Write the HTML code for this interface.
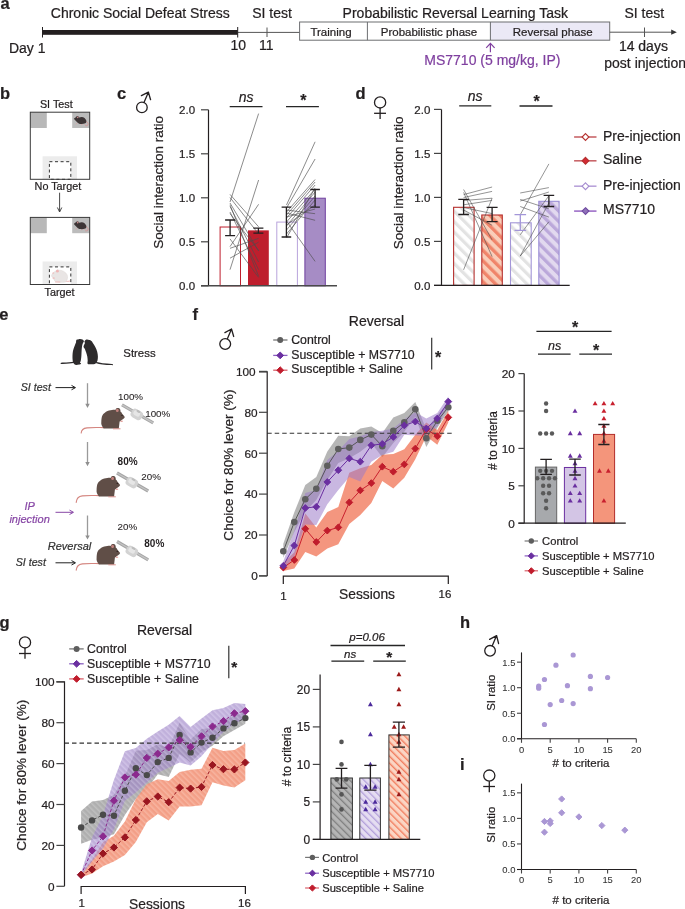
<!DOCTYPE html><html><head><meta charset="utf-8"><title>Figure</title><style>html,body{margin:0;padding:0;background:#fff;width:685px;height:909px;overflow:hidden}svg{display:block;will-change:transform}text{font-family:"Liberation Sans",sans-serif}</style></head><body>
<svg width="685" height="909" viewBox="0 0 685 909">
<defs><pattern id="hGray" patternUnits="userSpaceOnUse" width="7.4" height="7.4" patternTransform="rotate(-45)"><rect width="7.4" height="7.4" fill="#fff"/><rect width="3.2" height="7.4" fill="#e3e3e3"/></pattern><pattern id="hSal" patternUnits="userSpaceOnUse" width="7.4" height="7.4" patternTransform="rotate(-45)"><rect width="7.4" height="7.4" fill="#f9cdb9"/><rect width="3.3" height="7.4" fill="#f0846a"/></pattern><pattern id="hPur" patternUnits="userSpaceOnUse" width="7.4" height="7.4" patternTransform="rotate(-45)"><rect width="7.4" height="7.4" fill="#e2d9ef"/><rect width="3.3" height="7.4" fill="#bba8da"/></pattern><pattern id="gGray" patternUnits="userSpaceOnUse" width="5" height="5" patternTransform="rotate(-45)"><rect width="5" height="5" fill="#b5b5b5"/><rect width="1.3" height="5" fill="#808080"/></pattern><pattern id="gPur" patternUnits="userSpaceOnUse" width="5" height="5" patternTransform="rotate(-45)"><rect width="5" height="5" fill="#e5ddf1"/><rect width="1.3" height="5" fill="#b29fda"/></pattern><pattern id="gSal" patternUnits="userSpaceOnUse" width="5" height="5" patternTransform="rotate(-45)"><rect width="5" height="5" fill="#fbd5c4"/><rect width="1.4" height="5" fill="#f17d5f"/></pattern><pattern id="bGray" patternUnits="userSpaceOnUse" width="4" height="4" patternTransform="rotate(-45)"><rect width="4" height="4" fill="#9b9b9b"/><rect width="1.5" height="4" fill="#b0b0b0"/></pattern><pattern id="bPur" patternUnits="userSpaceOnUse" width="4" height="4" patternTransform="rotate(-45)"><rect width="4" height="4" fill="#a087c8"/><rect width="1.5" height="4" fill="#b8a4da"/></pattern><pattern id="bSal" patternUnits="userSpaceOnUse" width="4" height="4" patternTransform="rotate(-45)"><rect width="4" height="4" fill="#f2957a"/><rect width="1.5" height="4" fill="#f6ac96"/></pattern></defs>
<text x="0.4" y="9" font-size="16.5" text-anchor="start" fill="#231f20" stroke="#231f20" stroke-width="0.22" font-weight="bold" >a</text>
<text x="50.8" y="17.5" font-size="14" text-anchor="start" fill="#231f20" stroke="#231f20" stroke-width="0.22" >Chronic Social Defeat Stress</text>
<text x="252.2" y="17.5" font-size="14" text-anchor="start" fill="#231f20" stroke="#231f20" stroke-width="0.22" >SI test</text>
<text x="342.6" y="17.5" font-size="14" text-anchor="start" fill="#231f20" stroke="#231f20" stroke-width="0.22" >Probabilistic Reversal Learning Task</text>
<text x="624.4" y="17.5" font-size="14" text-anchor="start" fill="#231f20" stroke="#231f20" stroke-width="0.22" >SI test</text>
<rect x="42.5" y="30" width="195.2" height="4.8" fill="#231f20" stroke="none" stroke-width="1" />
<line x1="237.7" y1="32.4" x2="299.6" y2="32.4" stroke="#555" stroke-width="1" />
<line x1="42.5" y1="27" x2="42.5" y2="37.5" stroke="#231f20" stroke-width="1" />
<line x1="237.7" y1="27" x2="237.7" y2="37.5" stroke="#231f20" stroke-width="1" />
<line x1="267" y1="27.5" x2="267" y2="37" stroke="#555" stroke-width="1" />
<text x="8.9" y="52.5" font-size="14" text-anchor="start" fill="#231f20" stroke="#231f20" stroke-width="0.22" >Day 1</text>
<text x="238.2" y="50.4" font-size="14" text-anchor="middle" fill="#231f20" stroke="#231f20" stroke-width="0.22" >10</text>
<text x="266.3" y="50.4" font-size="14" text-anchor="middle" fill="#231f20" stroke="#231f20" stroke-width="0.22" >11</text>
<rect x="490.4" y="22" width="119.3" height="18.2" fill="#ebe9f6" stroke="none" stroke-width="1" />
<rect x="299.6" y="22" width="310.1" height="18.2" fill="none" stroke="#6d6e71" stroke-width="1" />
<line x1="367.4" y1="22" x2="367.4" y2="40.2" stroke="#6d6e71" stroke-width="1" />
<line x1="490.4" y1="22" x2="490.4" y2="40.2" stroke="#6d6e71" stroke-width="1" />
<text x="331" y="35.6" font-size="11.5" text-anchor="middle" fill="#231f20" stroke="#231f20" stroke-width="0.22" >Training</text>
<text x="429" y="35.6" font-size="11.5" text-anchor="middle" fill="#231f20" stroke="#231f20" stroke-width="0.22" >Probabilistic phase</text>
<text x="552.7" y="35.6" font-size="11.5" text-anchor="middle" fill="#231f20" stroke="#231f20" stroke-width="0.22" >Reversal phase</text>
<line x1="609.7" y1="32.2" x2="673" y2="32.2" stroke="#555" stroke-width="1" />
<path d="M671.2,29.6L676.8,32.2L671.2,34.8Z" fill="#333"/>
<line x1="644.5" y1="27.5" x2="644.5" y2="37" stroke="#555" stroke-width="1" />
<text x="643.4" y="50.8" font-size="14" text-anchor="middle" fill="#231f20" stroke="#231f20" stroke-width="0.22" >14 days</text>
<text x="604.3" y="67.5" font-size="14" text-anchor="start" fill="#231f20" stroke="#231f20" stroke-width="0.22" >post injection</text>
<text x="424.3" y="64.8" font-size="14" text-anchor="start" fill="#7f3f9f" stroke="#7f3f9f" stroke-width="0.22" >MS7710 (5 mg/kg, IP)</text>
<path d="M490.4,52.3V43.3M486.2,47.8L490.4,43.3L494.6,47.8" fill="none" stroke="#7f3f9f" stroke-width="1.2"/>
<text x="0" y="98.8" font-size="16.5" text-anchor="start" fill="#231f20" stroke="#231f20" stroke-width="0.22" font-weight="bold" >b</text>
<text x="56.3" y="107.9" font-size="10.8" text-anchor="middle" fill="#231f20" stroke="#231f20" stroke-width="0.22" >SI Test</text>
<rect x="30.3" y="112.2" width="59.4" height="67.1" fill="#fff" stroke="none" stroke-width="1" />
<rect x="30.3" y="112.2" width="16.5" height="15.8" fill="#b8b8b8" stroke="none" stroke-width="1" />
<rect x="72.2" y="112.2" width="17.5" height="15.8" fill="#bcbcbc" stroke="none" stroke-width="1" />
<rect x="42.6" y="156.3" width="34.4" height="23" fill="#ececec" stroke="none" stroke-width="1" />
<rect x="49.4" y="161.7" width="21.4" height="17.6" fill="#fff" stroke="#333" stroke-width="1" stroke-dasharray="3,2.6"/>
<rect x="30.3" y="112.2" width="59.4" height="67.1" fill="none" stroke="#3a3a3a" stroke-width="1" />
<g transform="translate(73.8,116.10000000000001)"><path d="M12.2,5.4 C13.8,6 14.6,7.4 14.2,8.6 C13.8,9.6 12.6,9.8 11.4,9.5" fill="none" stroke="#d98a8a" stroke-width="0.7"/><path d="M3,7.2 L2.2,8.2 M8.4,7.9 L7.6,9 M10.6,7.6 L11.3,8.6" stroke="#e09a9a" stroke-width="0.8"/><path d="M0.1,2.7 C0.6,1.9 1.2,1.4 1.8,1.3 C2.4,0.6 3,0 3.8,0 C4.6,0 5,0.8 5.2,1.5 C6,1.1 7,0.9 7.9,0.9 C10,1 11.8,2.5 12.5,4.4 C12.7,5.8 12.3,6.8 11.5,7.2 C9.8,7.9 8,8 6.4,7.8 C5,7.6 3.5,6.4 2.4,5.1 C1.6,4.5 0.6,3.6 0.1,2.7Z" fill="#3d3536"/><ellipse cx="3.9" cy="1.2" rx="0.8" ry="0.9" fill="#c98a8a"/></g>
<text x="57.9" y="190.3" font-size="10.8" text-anchor="middle" fill="#231f20" stroke="#231f20" stroke-width="0.22" >No Target</text>
<path d="M59.6,192.7V211.5M57.4,207.5L59.6,212L61.8,207.5" fill="none" stroke="#333" stroke-width="0.9"/>
<rect x="30.3" y="217.4" width="59.4" height="67.1" fill="#fff" stroke="none" stroke-width="1" />
<rect x="30.3" y="217.4" width="16.5" height="15.8" fill="#b8b8b8" stroke="none" stroke-width="1" />
<rect x="72.2" y="217.4" width="17.5" height="15.8" fill="#bcbcbc" stroke="none" stroke-width="1" />
<rect x="42.6" y="261.5" width="34.4" height="23" fill="#ececec" stroke="none" stroke-width="1" />
<rect x="49.4" y="266.9" width="21.4" height="17.6" fill="#fff" stroke="#333" stroke-width="1" stroke-dasharray="3,2.6"/>
<rect x="30.3" y="217.4" width="59.4" height="67.1" fill="none" stroke="#3a3a3a" stroke-width="1" />
<g transform="translate(73.8,221.3)"><path d="M12.2,5.4 C13.8,6 14.6,7.4 14.2,8.6 C13.8,9.6 12.6,9.8 11.4,9.5" fill="none" stroke="#d98a8a" stroke-width="0.7"/><path d="M3,7.2 L2.2,8.2 M8.4,7.9 L7.6,9 M10.6,7.6 L11.3,8.6" stroke="#e09a9a" stroke-width="0.8"/><path d="M0.1,2.7 C0.6,1.9 1.2,1.4 1.8,1.3 C2.4,0.6 3,0 3.8,0 C4.6,0 5,0.8 5.2,1.5 C6,1.1 7,0.9 7.9,0.9 C10,1 11.8,2.5 12.5,4.4 C12.7,5.8 12.3,6.8 11.5,7.2 C9.8,7.9 8,8 6.4,7.8 C5,7.6 3.5,6.4 2.4,5.1 C1.6,4.5 0.6,3.6 0.1,2.7Z" fill="#3d3536"/><ellipse cx="3.9" cy="1.2" rx="0.8" ry="0.9" fill="#c98a8a"/></g>
<g transform="translate(51.2,269.4)"><path d="M14,11.8 C16,12.2 17.5,12 19,11.5" fill="none" stroke="#e8a0a0" stroke-width="0.7"/><path d="M0.3,6 C0.8,4.5 2.5,2.5 4.8,1.6 C5.4,0.4 6.8,0 7.6,0.8 C10.5,0.6 14.5,2.2 16,5.5 C16.8,8 16.2,11 14.5,12.6 C11,13.2 6,13 4,12.2 C2.8,10.5 2.2,9.2 1.6,8.2 C0.8,7.6 0.2,6.8 0.3,6Z" fill="#e9e5e4" stroke="#d9d2d0" stroke-width="0.4"/><ellipse cx="6.2" cy="1.8" rx="1.4" ry="1.4" fill="#f0b5b5"/><ellipse cx="2" cy="3.6" rx="1" ry="0.5" fill="#f0b0b0"/><ellipse cx="2.5" cy="8.6" rx="1.2" ry="0.6" fill="#f0a8a8"/><path d="M4,12.6 H9" stroke="#f0b0b0" stroke-width="0.8"/></g>
<text x="59.5" y="295.6" font-size="10.8" text-anchor="middle" fill="#231f20" stroke="#231f20" stroke-width="0.22" >Target</text>
<text x="117.1" y="98.9" font-size="16.5" text-anchor="start" fill="#231f20" stroke="#231f20" stroke-width="0.22" font-weight="bold" >c</text>
<circle cx="141.9" cy="107.4" r="5.3" fill="none" stroke="#231f20" stroke-width="1.3"/>
<path d="M143.98,102.53L148.4,92.2M141.4,95.6L148.4,92.2L150.6,99.7" fill="none" stroke="#231f20" stroke-width="1.3" stroke-linejoin="round" stroke-linecap="round"/>
<path d="M208.5,109.80000000000001V285.8" stroke="#231f20" stroke-width="1.2"/>
<line x1="201" y1="285.8" x2="208.5" y2="285.8" stroke="#444" stroke-width="1.2" />
<text x="195.1" y="290.3" font-size="11.5" text-anchor="end" fill="#231f20" stroke="#231f20" stroke-width="0.22" >0.0</text>
<line x1="201" y1="241.8" x2="208.5" y2="241.8" stroke="#444" stroke-width="1.2" />
<text x="195.1" y="246.3" font-size="11.5" text-anchor="end" fill="#231f20" stroke="#231f20" stroke-width="0.22" >0.5</text>
<line x1="201" y1="197.8" x2="208.5" y2="197.8" stroke="#444" stroke-width="1.2" />
<text x="195.1" y="202.3" font-size="11.5" text-anchor="end" fill="#231f20" stroke="#231f20" stroke-width="0.22" >1.0</text>
<line x1="201" y1="153.8" x2="208.5" y2="153.8" stroke="#444" stroke-width="1.2" />
<text x="195.1" y="158.3" font-size="11.5" text-anchor="end" fill="#231f20" stroke="#231f20" stroke-width="0.22" >1.5</text>
<line x1="201" y1="109.80000000000001" x2="208.5" y2="109.80000000000001" stroke="#444" stroke-width="1.2" />
<text x="195.1" y="114.30000000000001" font-size="11.5" text-anchor="end" fill="#231f20" stroke="#231f20" stroke-width="0.22" >2.0</text>
<text transform="translate(163.3,182.4) rotate(-90)" font-size="13.5" text-anchor="middle" fill="#231f20" stroke="#231f20" stroke-width="0.22">Social interaction ratio</text>
<rect x="220.1" y="227.01600000000002" width="20.4" height="58.78399999999999" fill="#fff" stroke="#be1e2d" stroke-width="1" />
<rect x="248" y="230.36" width="20.8" height="55.44" fill="#be1e2d" stroke="none" stroke-width="1" />
<rect x="276.8" y="222.08800000000002" width="20.6" height="63.71199999999999" fill="#fff" stroke="#b9a4dc" stroke-width="1" />
<rect x="304.9" y="198.2" width="20.4" height="87.60000000000002" fill="#a68cc5" stroke="#6f3f9f" stroke-width="1" />
<line x1="201" y1="285.8" x2="337" y2="285.8" stroke="#4a4a4a" stroke-width="1.4" />
<line x1="230" y1="194.4" x2="258.6" y2="226.8" stroke="#4d4d4d" stroke-width="0.65" />
<line x1="230" y1="202" x2="258.6" y2="113.6" stroke="#4d4d4d" stroke-width="0.65" />
<line x1="230" y1="203" x2="258.6" y2="251" stroke="#4d4d4d" stroke-width="0.65" />
<line x1="230" y1="204.8" x2="258.6" y2="276.3" stroke="#4d4d4d" stroke-width="0.65" />
<line x1="230" y1="212" x2="258.6" y2="269.7" stroke="#4d4d4d" stroke-width="0.65" />
<line x1="230" y1="213.6" x2="258.6" y2="250.5" stroke="#4d4d4d" stroke-width="0.65" />
<line x1="230" y1="238.9" x2="258.6" y2="277.4" stroke="#4d4d4d" stroke-width="0.65" />
<line x1="230" y1="248.3" x2="258.6" y2="238.4" stroke="#4d4d4d" stroke-width="0.65" />
<line x1="230" y1="258.2" x2="258.6" y2="242.2" stroke="#4d4d4d" stroke-width="0.65" />
<line x1="230" y1="269.7" x2="258.6" y2="180" stroke="#4d4d4d" stroke-width="0.65" />
<line x1="230" y1="246.6" x2="258.6" y2="204.3" stroke="#4d4d4d" stroke-width="0.65" />
<line x1="230" y1="206.5" x2="258.6" y2="262" stroke="#4d4d4d" stroke-width="0.65" />
<line x1="230" y1="197.5" x2="258.6" y2="234" stroke="#4d4d4d" stroke-width="0.65" />
<line x1="286.5" y1="205" x2="315.1" y2="141.8" stroke="#4d4d4d" stroke-width="0.65" />
<line x1="286.5" y1="208" x2="315.1" y2="159" stroke="#4d4d4d" stroke-width="0.65" />
<line x1="286.5" y1="212" x2="315.1" y2="179.5" stroke="#4d4d4d" stroke-width="0.65" />
<line x1="286.5" y1="215" x2="315.1" y2="182" stroke="#4d4d4d" stroke-width="0.65" />
<line x1="286.5" y1="218" x2="315.1" y2="185" stroke="#4d4d4d" stroke-width="0.65" />
<line x1="286.5" y1="222" x2="315.1" y2="189" stroke="#4d4d4d" stroke-width="0.65" />
<line x1="286.5" y1="226" x2="315.1" y2="192" stroke="#4d4d4d" stroke-width="0.65" />
<line x1="286.5" y1="230" x2="315.1" y2="196" stroke="#4d4d4d" stroke-width="0.65" />
<line x1="286.5" y1="234" x2="315.1" y2="200" stroke="#4d4d4d" stroke-width="0.65" />
<line x1="286.5" y1="238" x2="315.1" y2="188" stroke="#4d4d4d" stroke-width="0.65" />
<line x1="286.5" y1="210" x2="315.1" y2="213.7" stroke="#4d4d4d" stroke-width="0.65" />
<line x1="286.5" y1="213" x2="315.1" y2="220.3" stroke="#4d4d4d" stroke-width="0.65" />
<line x1="286.5" y1="221" x2="315.1" y2="261.4" stroke="#4d4d4d" stroke-width="0.65" />
<line x1="286.5" y1="225" x2="315.1" y2="205" stroke="#4d4d4d" stroke-width="0.65" />
<line x1="286.5" y1="217" x2="315.1" y2="209" stroke="#4d4d4d" stroke-width="0.65" />
<path d="M230.1,220V235.7M225.1,220H235.1M225.1,235.7H235.1" stroke="#231f20" stroke-width="1.3" fill="none"/>
<path d="M258.4,228.2V233.2M253.39999999999998,228.2H263.4M253.39999999999998,233.2H263.4" stroke="#231f20" stroke-width="1.3" fill="none"/>
<path d="M286.4,207.2V237M281.59999999999997,207.2H291.2M281.59999999999997,237H291.2" stroke="#231f20" stroke-width="1.3" fill="none"/>
<path d="M315.1,189.5V207.1M310.3,189.5H319.90000000000003M310.3,207.1H319.90000000000003" stroke="#231f20" stroke-width="1.3" fill="none"/>
<line x1="229.7" y1="106.6" x2="262.5" y2="106.6" stroke="#262626" stroke-width="1.3" />
<text x="246.1" y="101.9" font-size="14" text-anchor="middle" fill="#231f20" stroke="#231f20" stroke-width="0.22" font-style="italic" >ns</text>
<line x1="286" y1="106.6" x2="318.9" y2="106.6" stroke="#262626" stroke-width="1.3" />
<text x="300.2" y="106" font-size="16" text-anchor="start" fill="#231f20" stroke="#231f20" stroke-width="0.22" font-weight="bold" >*</text>
<text x="355.6" y="98.9" font-size="16.5" text-anchor="start" fill="#231f20" stroke="#231f20" stroke-width="0.22" font-weight="bold" >d</text>
<circle cx="380.1" cy="102.4" r="5.6" fill="none" stroke="#231f20" stroke-width="1.3"/>
<line x1="380.1" y1="108.0" x2="380.1" y2="119" stroke="#231f20" stroke-width="1.3"/>
<line x1="374.1" y1="113.3" x2="386" y2="113.3" stroke="#231f20" stroke-width="1.3"/>
<path d="M441.5,109.39999999999998V285.4" stroke="#231f20" stroke-width="1.2"/>
<line x1="434" y1="285.4" x2="441.5" y2="285.4" stroke="#444" stroke-width="1.2" />
<text x="430.3" y="290.09999999999997" font-size="11.5" text-anchor="end" fill="#231f20" stroke="#231f20" stroke-width="0.22" >0.0</text>
<line x1="434" y1="241.39999999999998" x2="441.5" y2="241.39999999999998" stroke="#444" stroke-width="1.2" />
<text x="430.3" y="246.09999999999997" font-size="11.5" text-anchor="end" fill="#231f20" stroke="#231f20" stroke-width="0.22" >0.5</text>
<line x1="434" y1="197.39999999999998" x2="441.5" y2="197.39999999999998" stroke="#444" stroke-width="1.2" />
<text x="430.3" y="202.09999999999997" font-size="11.5" text-anchor="end" fill="#231f20" stroke="#231f20" stroke-width="0.22" >1.0</text>
<line x1="434" y1="153.39999999999998" x2="441.5" y2="153.39999999999998" stroke="#444" stroke-width="1.2" />
<text x="430.3" y="158.09999999999997" font-size="11.5" text-anchor="end" fill="#231f20" stroke="#231f20" stroke-width="0.22" >1.5</text>
<line x1="434" y1="109.39999999999998" x2="441.5" y2="109.39999999999998" stroke="#444" stroke-width="1.2" />
<text x="430.3" y="114.09999999999998" font-size="11.5" text-anchor="end" fill="#231f20" stroke="#231f20" stroke-width="0.22" >2.0</text>
<text transform="translate(403.1,182.8) rotate(-90)" font-size="13.5" text-anchor="middle" fill="#231f20" stroke="#231f20" stroke-width="0.22">Social interaction ratio</text>
<rect x="453.6" y="207.3" width="20.5" height="78.09999999999997" fill="url(#hGray)" stroke="#b5302e" stroke-width="1.1" />
<rect x="481.8" y="215" width="20.5" height="70.39999999999998" fill="url(#hSal)" stroke="#b5302e" stroke-width="1.1" />
<rect x="510.5" y="222.8" width="20.7" height="62.599999999999966" fill="url(#hGray)" stroke="#a396d8" stroke-width="1.1" />
<rect x="538.8" y="201.3" width="20.3" height="84.09999999999997" fill="url(#hPur)" stroke="#9b8fd6" stroke-width="1.1" />
<line x1="434" y1="285.4" x2="569.7" y2="285.4" stroke="#231f20" stroke-width="1.3" />
<line x1="463.6" y1="189.5" x2="492.1" y2="239.9" stroke="#4d4d4d" stroke-width="0.6" />
<line x1="463.6" y1="192.4" x2="492.1" y2="256.6" stroke="#4d4d4d" stroke-width="0.6" />
<line x1="463.6" y1="194.6" x2="492.1" y2="187" stroke="#4d4d4d" stroke-width="0.6" />
<line x1="463.6" y1="197.5" x2="492.1" y2="191.4" stroke="#4d4d4d" stroke-width="0.6" />
<line x1="463.6" y1="200.5" x2="492.1" y2="198.2" stroke="#4d4d4d" stroke-width="0.6" />
<line x1="463.6" y1="204.8" x2="492.1" y2="200.4" stroke="#4d4d4d" stroke-width="0.6" />
<line x1="463.6" y1="269.8" x2="492.1" y2="198.2" stroke="#4d4d4d" stroke-width="0.6" />
<line x1="463.6" y1="207.5" x2="492.1" y2="213.6" stroke="#4d4d4d" stroke-width="0.6" />
<line x1="463.6" y1="210" x2="492.1" y2="225.3" stroke="#4d4d4d" stroke-width="0.6" />
<line x1="520.2" y1="193" x2="548.9" y2="187.6" stroke="#4d4d4d" stroke-width="0.6" />
<line x1="520.2" y1="199.4" x2="548.9" y2="208.8" stroke="#4d4d4d" stroke-width="0.6" />
<line x1="520.2" y1="206.5" x2="548.9" y2="217.1" stroke="#4d4d4d" stroke-width="0.6" />
<line x1="520.2" y1="214.8" x2="548.9" y2="163.9" stroke="#4d4d4d" stroke-width="0.6" />
<line x1="520.2" y1="234.8" x2="548.9" y2="195.8" stroke="#4d4d4d" stroke-width="0.6" />
<line x1="520.2" y1="256.1" x2="548.9" y2="202.9" stroke="#4d4d4d" stroke-width="0.6" />
<line x1="520.2" y1="256.1" x2="548.9" y2="221.8" stroke="#4d4d4d" stroke-width="0.6" />
<line x1="520.2" y1="201" x2="548.9" y2="192" stroke="#4d4d4d" stroke-width="0.6" />
<path d="M463.6,199.3V214.5M458.3,199.3H468.90000000000003M458.3,214.5H468.90000000000003" stroke="#231f20" stroke-width="1.3" fill="none"/>
<path d="M492.1,207.4V221.6M486.6,207.4H497.6M486.6,221.6H497.6" stroke="#231f20" stroke-width="1.3" fill="none"/>
<path d="M520.3,214.7V230.4M514.5,214.7H526.0999999999999M514.5,230.4H526.0999999999999" stroke="#a396d8" stroke-width="1.3" fill="none"/>
<path d="M548.9,195.4V206.5M543.6,195.4H554.1999999999999M543.6,206.5H554.1999999999999" stroke="#231f20" stroke-width="1.3" fill="none"/>
<line x1="459.2" y1="105.8" x2="491.3" y2="105.8" stroke="#262626" stroke-width="1.3" />
<text x="475.2" y="100.9" font-size="14" text-anchor="middle" fill="#231f20" stroke="#231f20" stroke-width="0.22" font-style="italic" >ns</text>
<line x1="519.5" y1="106" x2="552.5" y2="106" stroke="#262626" stroke-width="1.3" />
<text x="533.6" y="106.7" font-size="16" text-anchor="start" fill="#231f20" stroke="#231f20" stroke-width="0.22" font-weight="bold" >*</text>
<line x1="574.1" y1="137" x2="596.5" y2="137" stroke="#c9666a" stroke-width="1.6" />
<path d="M585.5,133.6L588.9,137L585.5,140.4L582.1,137Z" fill="#fff" stroke="#b5302e" stroke-width="1.1"/>
<text x="603" y="140.7" font-size="14" text-anchor="start" fill="#231f20" stroke="#231f20" stroke-width="0.22" >Pre-injection</text>
<line x1="574.1" y1="160.8" x2="596.5" y2="160.8" stroke="#c9666a" stroke-width="1.6" />
<path d="M585.5,157.4L588.9,160.8L585.5,164.20000000000002L582.1,160.8Z" fill="#d42a35" stroke="#b5302e" stroke-width="1.1"/>
<text x="603" y="163.9" font-size="14" text-anchor="start" fill="#231f20" stroke="#231f20" stroke-width="0.22" >Saline</text>
<line x1="574.1" y1="186.2" x2="596.5" y2="186.2" stroke="#b9a3da" stroke-width="1.6" />
<path d="M585.5,182.79999999999998L588.9,186.2L585.5,189.6L582.1,186.2Z" fill="#fff" stroke="#a58bd0" stroke-width="1.1"/>
<text x="603" y="190.1" font-size="14" text-anchor="start" fill="#231f20" stroke="#231f20" stroke-width="0.22" >Pre-injection</text>
<line x1="574.1" y1="211.1" x2="596.5" y2="211.1" stroke="#9d6fc8" stroke-width="1.6" />
<path d="M585.5,207.7L588.9,211.1L585.5,214.5L582.1,211.1Z" fill="#9072b9" stroke="#6f4aa0" stroke-width="1.1"/>
<text x="603" y="214.4" font-size="14" text-anchor="start" fill="#231f20" stroke="#231f20" stroke-width="0.22" >MS7710</text>
<text x="-0.7" y="319.7" font-size="16.5" text-anchor="start" fill="#231f20" stroke="#231f20" stroke-width="0.22" font-weight="bold" >e</text>
<g fill="#2d2b2c"><path d="M73,362.3 C72.4,360 72.4,356 72.6,353.7 C72.8,351.5 73.2,350 73.6,348.8 C74,347.4 74.4,346.2 74.9,345.2 C75.4,344 75.8,343 76.1,342.3 C76,341.4 76,340.6 76.4,340 C76.9,339.4 77.6,339.4 78.2,339.6 C78.8,339.1 79.4,339 80.1,339 C81,339 81.9,339.2 82.5,339.5 C83.2,339.9 83.7,340.4 83.9,340.9 C83.9,341.5 83.7,341.9 83.4,342.3 C83,343 82.7,343.6 82.5,344.2 C82.2,345 82.1,345.8 82,346.6 C81.8,348 81.7,349.5 81.6,350.9 C81.5,352.5 81.5,354 81.4,355.6 C81.3,357.2 81.1,358.8 80.8,360.4 C80.6,361.3 80.3,362 79.9,362.7 C80.4,362.9 80.9,363.1 81.1,363.4 C80.8,364 80,364.5 79.2,364.6 C78.2,364.8 77.2,364.9 76.3,364.9 C75.5,364.8 74.9,364.6 74.4,364.2 C73.8,363.6 73.3,363 73,362.3Z"/><path d="M84.4,341.4 C84.9,340.5 85.5,339.8 86.3,339.5 C87.3,339.2 88.3,339.5 89.2,340 C89.7,339.9 90.2,340 90.6,340.4 C91.2,340.6 91.7,340.9 92,341.4 C92.4,342 92.7,342.6 93,343.3 C93.8,344.5 94.6,345.8 95.3,347.1 C96.1,348.6 96.7,350.2 97.2,351.8 C97.6,353.4 97.9,355 97.9,356.6 C97.9,357.9 97.8,359.2 97.5,360.4 C97.2,361.3 96.8,362.1 96.3,362.7 C95.9,363.3 95.4,363.7 94.8,364 C93.7,364.3 92.6,364.4 91.5,364.3 C90.4,364.3 89.3,364.3 88.2,364.2 C87.8,363.9 87.5,363.6 87.4,363.2 C87.5,362.3 87.6,361.3 87.7,360.4 C87.6,359.1 87.5,357.9 87.3,356.6 C87,355.2 86.6,353.7 86.1,352.3 C85.7,351.2 85.3,350.1 84.9,349 C84.4,348.4 83.9,347.8 83.5,347.1 C83.5,346.4 83.7,345.8 83.9,345.2 C84.2,344.5 84.6,343.9 84.9,343.3 C84.9,342.7 84.7,342 84.4,341.4Z"/></g>
<path d="M73.3,362.3 C70,362.9 65,363.1 61.2,363.3" fill="none" stroke="#2d2b2c" stroke-width="1.3" stroke-linecap="round"/>
<path d="M96.5,362.6 C101,364 107,364.3 112.4,364.6" fill="none" stroke="#2d2b2c" stroke-width="1.1" stroke-linecap="round"/>
<text x="123.3" y="357.3" font-size="11.4" text-anchor="start" fill="#231f20" stroke="#231f20" stroke-width="0.22" >Stress</text>
<text x="20.8" y="391" font-size="10.6" text-anchor="start" fill="#333" stroke="#333" stroke-width="0.22" font-style="italic" >SI test</text>
<path d="M55.5,387.6H75M71.5,385.4L75.5,387.6L71.5,389.8" fill="none" stroke="#222" stroke-width="1"/>
<path d="M87.5,383.2V404.9" fill="none" stroke="#9a9a9a" stroke-width="1.3"/>
<path d="M85.3,403.7L89.7,403.7L87.5,407.9Z" fill="#8f8f8f"/>
<path d="M87.5,442V463.2" fill="none" stroke="#9a9a9a" stroke-width="1.3"/>
<path d="M85.3,462.0L89.7,462.0L87.5,466.2Z" fill="#8f8f8f"/>
<path d="M87.5,515.5V536.6" fill="none" stroke="#9a9a9a" stroke-width="1.3"/>
<path d="M85.3,535.4L89.7,535.4L87.5,539.6Z" fill="#8f8f8f"/>
<g transform="translate(101,409)"><path d="M3,18.6 C-2,18.6 -8,18.2 -14,18.9 C-17.5,19.3 -19.6,20.5 -19.799999999999997,24" fill="none" stroke="#d4857f" stroke-width="1.1" stroke-linecap="round"/><path d="M2.7,19.4 C0.8,17.5 0,15.5 0.3,13.1 C0.4,10 0.6,8 1.5,6.3 C2.5,4.5 3.9,3.6 5,2.8 C7,1.6 9,1.3 11,1 C12.5,0.8 13.4,0.7 14.4,0.9 C14.8,-0.4 15.6,-1 16.6,-1 C17.8,-1 18.8,-0.6 19.2,0.4 C19.5,1.2 19.5,1.8 19.4,2.4 C20.4,3 20.8,3.8 21,4.6 C22,5.8 23.2,7 23.8,8.1 C23.6,9 23,9.5 22.4,9.7 C21.8,10.4 21.2,10.8 20.6,11 C20,11.8 19.2,12.4 18.6,12.6 C18.4,14.5 18.2,16.5 17.8,19.4 Z" fill="#604e47"/><ellipse cx="16.3" cy="1.4" rx="1.4" ry="1.7" fill="#c4837f"/><circle cx="21" cy="6.4" r="0.7" fill="#2a2020"/><ellipse cx="20.6" cy="12.3" rx="1.4" ry="0.8" fill="#e4a4a0"/><path d="M12,19.8 H19.5" stroke="#d4857f" stroke-width="0.9"/></g>
<line x1="122" y1="404.8" x2="153.2" y2="422.8" stroke="#a5a5a5" stroke-width="3.2" stroke-linecap="butt"/>
<line x1="122" y1="404.8" x2="153.2" y2="422.8" stroke="#c3c3c3" stroke-width="1.4"/>
<g transform="translate(136.79999999999998,414.40000000000003) rotate(30.0)"><rect x="-6" y="-4.6" width="12" height="9.2" rx="3.5" fill="#d3d3d3"/><rect x="-4" y="-3.2" width="7" height="5" rx="2.2" fill="#e6e6e6"/><rect x="-2" y="-4.5" width="4" height="2.2" rx="1" fill="#bdbdbd"/></g>
<text x="118" y="399.5" font-size="9.8" text-anchor="start" fill="#231f20" stroke="#231f20" stroke-width="0.08" >100%</text>
<text x="145.2" y="416.6" font-size="9.8" text-anchor="start" fill="#231f20" stroke="#231f20" stroke-width="0.08" >100%</text>
<g transform="translate(96.3,477)"><path d="M3,18.6 C-2,18.6 -8,18.2 -14,18.9 C-17.5,19.3 -19.6,20.5 -20.099999999999994,25.399999999999977" fill="none" stroke="#d4857f" stroke-width="1.1" stroke-linecap="round"/><path d="M2.7,19.4 C0.8,17.5 0,15.5 0.3,13.1 C0.4,10 0.6,8 1.5,6.3 C2.5,4.5 3.9,3.6 5,2.8 C7,1.6 9,1.3 11,1 C12.5,0.8 13.4,0.7 14.4,0.9 C14.8,-0.4 15.6,-1 16.6,-1 C17.8,-1 18.8,-0.6 19.2,0.4 C19.5,1.2 19.5,1.8 19.4,2.4 C20.4,3 20.8,3.8 21,4.6 C22,5.8 23.2,7 23.8,8.1 C23.6,9 23,9.5 22.4,9.7 C21.8,10.4 21.2,10.8 20.6,11 C20,11.8 19.2,12.4 18.6,12.6 C18.4,14.5 18.2,16.5 17.8,19.4 Z" fill="#604e47"/><ellipse cx="16.3" cy="1.4" rx="1.4" ry="1.7" fill="#c4837f"/><circle cx="21" cy="6.4" r="0.7" fill="#2a2020"/><ellipse cx="20.6" cy="12.3" rx="1.4" ry="0.8" fill="#e4a4a0"/><path d="M12,19.8 H19.5" stroke="#d4857f" stroke-width="0.9"/></g>
<line x1="117" y1="473" x2="148.2" y2="491" stroke="#a5a5a5" stroke-width="3.2" stroke-linecap="butt"/>
<line x1="117" y1="473" x2="148.2" y2="491" stroke="#c3c3c3" stroke-width="1.4"/>
<g transform="translate(131.79999999999998,482.6) rotate(30.0)"><rect x="-6" y="-4.6" width="12" height="9.2" rx="3.5" fill="#d3d3d3"/><rect x="-4" y="-3.2" width="7" height="5" rx="2.2" fill="#e6e6e6"/><rect x="-2" y="-4.5" width="4" height="2.2" rx="1" fill="#bdbdbd"/></g>
<text x="117.6" y="464.5" font-size="10" text-anchor="start" fill="#231f20" stroke="#231f20" stroke-width="0" font-weight="bold" >80%</text>
<text x="141.3" y="479.8" font-size="9.8" text-anchor="start" fill="#231f20" stroke="#231f20" stroke-width="0.08" >20%</text>
<text x="24.5" y="510.2" font-size="11" text-anchor="start" fill="#8848a6" stroke="#8848a6" stroke-width="0.22" font-style="italic" >IP</text>
<text x="9.4" y="523.4" font-size="11" text-anchor="start" fill="#8848a6" stroke="#8848a6" stroke-width="0.22" font-style="italic" >injection</text>
<path d="M55.5,512.3H73M69.5,510.1L73.5,512.3L69.5,514.5" fill="none" stroke="#8848a6" stroke-width="1"/>
<text x="117.6" y="530" font-size="9.8" text-anchor="start" fill="#231f20" stroke="#231f20" stroke-width="0.08" >20%</text>
<text x="47.8" y="550.2" font-size="11" text-anchor="start" fill="#333" stroke="#333" stroke-width="0.22" font-style="italic" >Reversal</text>
<g transform="translate(96.3,545)"><path d="M3,18.6 C-2,18.6 -8,18.2 -14,18.9 C-17.5,19.3 -19.6,20.5 -20.099999999999994,25.100000000000023" fill="none" stroke="#d4857f" stroke-width="1.1" stroke-linecap="round"/><path d="M2.7,19.4 C0.8,17.5 0,15.5 0.3,13.1 C0.4,10 0.6,8 1.5,6.3 C2.5,4.5 3.9,3.6 5,2.8 C7,1.6 9,1.3 11,1 C12.5,0.8 13.4,0.7 14.4,0.9 C14.8,-0.4 15.6,-1 16.6,-1 C17.8,-1 18.8,-0.6 19.2,0.4 C19.5,1.2 19.5,1.8 19.4,2.4 C20.4,3 20.8,3.8 21,4.6 C22,5.8 23.2,7 23.8,8.1 C23.6,9 23,9.5 22.4,9.7 C21.8,10.4 21.2,10.8 20.6,11 C20,11.8 19.2,12.4 18.6,12.6 C18.4,14.5 18.2,16.5 17.8,19.4 Z" fill="#604e47"/><ellipse cx="16.3" cy="1.4" rx="1.4" ry="1.7" fill="#c4837f"/><circle cx="21" cy="6.4" r="0.7" fill="#2a2020"/><ellipse cx="20.6" cy="12.3" rx="1.4" ry="0.8" fill="#e4a4a0"/><path d="M12,19.8 H19.5" stroke="#d4857f" stroke-width="0.9"/></g>
<line x1="117" y1="541.5" x2="148.2" y2="559.9" stroke="#a5a5a5" stroke-width="3.2" stroke-linecap="butt"/>
<line x1="117" y1="541.5" x2="148.2" y2="559.9" stroke="#c3c3c3" stroke-width="1.4"/>
<g transform="translate(131.79999999999998,551.3000000000001) rotate(30.5)"><rect x="-6" y="-4.6" width="12" height="9.2" rx="3.5" fill="#d3d3d3"/><rect x="-4" y="-3.2" width="7" height="5" rx="2.2" fill="#e6e6e6"/><rect x="-2" y="-4.5" width="4" height="2.2" rx="1" fill="#bdbdbd"/></g>
<text x="144.3" y="547.2" font-size="10" text-anchor="start" fill="#231f20" stroke="#231f20" stroke-width="0" font-weight="bold" >80%</text>
<text x="15.8" y="565.7" font-size="10.6" text-anchor="start" fill="#333" stroke="#333" stroke-width="0.22" font-style="italic" >SI test</text>
<path d="M55.5,562.8H75M71.5,560.6L75.5,562.8L71.5,565" fill="none" stroke="#222" stroke-width="1"/>
<text x="192.6" y="319.5" font-size="16.5" text-anchor="start" fill="#231f20" stroke="#231f20" stroke-width="0.22" font-weight="bold" >f</text>
<circle cx="225.2" cy="344" r="5.4" fill="none" stroke="#231f20" stroke-width="1.3"/>
<path d="M227.29,339.02L231.5,329M224.9,332.6L231.5,329L233.7,336.5" fill="none" stroke="#231f20" stroke-width="1.3" stroke-linejoin="round" stroke-linecap="round"/>
<text x="348.8" y="325.9" font-size="14" text-anchor="start" fill="#231f20" stroke="#231f20" stroke-width="0.22" >Reversal</text>
<polygon points="283.3,543.8 294.3,512.3 305.3,485.0 316.3,477.1 327.3,451.4 338.3,435.7 349.3,436.3 360.3,428.6 371.3,426.4 382.3,433.0 393.3,417.6 404.3,413.1 415.3,401.9 426.3,429.4 437.3,414.7 448.3,403.3 448.3,411.3 437.3,427.7 426.3,447.0 415.3,416.7 404.3,431.7 393.3,443.0 382.3,457.2 371.3,443.0 360.3,451.7 349.3,458.3 338.3,463.0 327.3,480.0 316.3,500.0 305.3,511.6 294.3,532.0 283.3,557.8" fill="#8f8f8f" fill-opacity="0.65"/>
<polygon points="283.3,563.0 294.3,552.2 305.3,513.4 316.3,527.4 327.3,512.1 338.3,507.1 349.3,472.7 360.3,468.3 371.3,465.0 382.3,454.7 393.3,454.0 404.3,449.3 415.3,434.7 426.3,422.4 437.3,430.0 448.3,410.8 448.3,422.4 437.3,444.7 426.3,436.2 415.3,459.3 404.3,477.8 393.3,488.6 382.3,480.9 371.3,503.0 360.3,515.0 349.3,523.9 338.3,544.3 327.3,548.6 316.3,556.4 305.3,552.0 294.3,568.5 283.3,571.0" fill="#ef6a48" fill-opacity="0.7"/>
<polygon points="283.3,561.5 294.3,530.5 305.3,492.9 316.3,490.0 327.3,460.0 338.3,451.0 349.3,439.0 360.3,436.3 371.3,432.0 382.3,430.8 393.3,428.5 404.3,419.3 415.3,412.3 426.3,418.5 437.3,413.1 448.3,396.5 448.3,405.4 437.3,426.2 426.3,435.5 415.3,435.5 404.3,434.7 393.3,451.7 382.3,455.0 371.3,461.7 360.3,481.5 349.3,477.0 338.3,490.0 327.3,504.3 316.3,525.0 305.3,524.5 294.3,557.0 283.3,569.5" fill="#9c7cc8" fill-opacity="0.55"/>
<line x1="267.2" y1="433.3" x2="452.3" y2="433.3" stroke="#333" stroke-width="1.1" stroke-dasharray="4.5,3"/>
<polyline points="283.3,551.2 294.3,522.1 305.3,499.2 316.3,488.7 327.3,465.8 338.3,449.0 349.3,447.6 360.3,439.9 371.3,434.6 382.3,446.2 393.3,430.8 404.3,422.4 415.3,409.3 426.3,438.2 437.3,420.8 448.3,407.3" fill="none" stroke="#555" stroke-width="1" />
<circle cx="283.3" cy="551.2" r="3.3" fill="#5e5e5e"/>
<circle cx="294.3" cy="522.1" r="3.3" fill="#5e5e5e"/>
<circle cx="305.3" cy="499.2" r="3.3" fill="#5e5e5e"/>
<circle cx="316.3" cy="488.7" r="3.3" fill="#5e5e5e"/>
<circle cx="327.3" cy="465.8" r="3.3" fill="#5e5e5e"/>
<circle cx="338.3" cy="449.0" r="3.3" fill="#5e5e5e"/>
<circle cx="349.3" cy="447.6" r="3.3" fill="#5e5e5e"/>
<circle cx="360.3" cy="439.9" r="3.3" fill="#5e5e5e"/>
<circle cx="371.3" cy="434.6" r="3.3" fill="#5e5e5e"/>
<circle cx="382.3" cy="446.2" r="3.3" fill="#5e5e5e"/>
<circle cx="393.3" cy="430.8" r="3.3" fill="#5e5e5e"/>
<circle cx="404.3" cy="422.4" r="3.3" fill="#5e5e5e"/>
<circle cx="415.3" cy="409.3" r="3.3" fill="#5e5e5e"/>
<circle cx="426.3" cy="438.2" r="3.3" fill="#5e5e5e"/>
<circle cx="437.3" cy="420.8" r="3.3" fill="#5e5e5e"/>
<circle cx="448.3" cy="407.3" r="3.3" fill="#5e5e5e"/>
<polyline points="283.3,567.5 294.3,560.0 305.3,528.8 316.3,542.0 327.3,530.6 338.3,527.4 349.3,502.4 360.3,490.4 371.3,483.1 382.3,466.7 393.3,471.7 404.3,464.4 415.3,448.6 426.3,429.3 437.3,436.2 448.3,417.4" fill="none" stroke="#c8202e" stroke-width="1" />
<path d="M283.3,564.1L286.7,567.5L283.3,570.9L279.90000000000003,567.5Z" fill="#c01c2c" stroke="#c01c2c" stroke-width="1"/>
<path d="M294.3,556.6L297.7,560.0L294.3,563.4L290.90000000000003,560.0Z" fill="#c01c2c" stroke="#c01c2c" stroke-width="1"/>
<path d="M305.3,525.4L308.7,528.8L305.3,532.1999999999999L301.90000000000003,528.8Z" fill="#c01c2c" stroke="#c01c2c" stroke-width="1"/>
<path d="M316.3,538.6L319.7,542.0L316.3,545.4L312.90000000000003,542.0Z" fill="#c01c2c" stroke="#c01c2c" stroke-width="1"/>
<path d="M327.3,527.2L330.7,530.6L327.3,534.0L323.90000000000003,530.6Z" fill="#c01c2c" stroke="#c01c2c" stroke-width="1"/>
<path d="M338.3,524.0L341.7,527.4L338.3,530.8L334.90000000000003,527.4Z" fill="#c01c2c" stroke="#c01c2c" stroke-width="1"/>
<path d="M349.3,499.0L352.7,502.4L349.3,505.79999999999995L345.90000000000003,502.4Z" fill="#c01c2c" stroke="#c01c2c" stroke-width="1"/>
<path d="M360.3,487.0L363.7,490.4L360.3,493.79999999999995L356.90000000000003,490.4Z" fill="#c01c2c" stroke="#c01c2c" stroke-width="1"/>
<path d="M371.3,479.70000000000005L374.7,483.1L371.3,486.5L367.90000000000003,483.1Z" fill="#c01c2c" stroke="#c01c2c" stroke-width="1"/>
<path d="M382.3,463.3L385.7,466.7L382.3,470.09999999999997L378.90000000000003,466.7Z" fill="#c01c2c" stroke="#c01c2c" stroke-width="1"/>
<path d="M393.3,468.3L396.7,471.7L393.3,475.09999999999997L389.90000000000003,471.7Z" fill="#c01c2c" stroke="#c01c2c" stroke-width="1"/>
<path d="M404.3,461.0L407.7,464.4L404.3,467.79999999999995L400.90000000000003,464.4Z" fill="#c01c2c" stroke="#c01c2c" stroke-width="1"/>
<path d="M415.3,445.20000000000005L418.7,448.6L415.3,452.0L411.90000000000003,448.6Z" fill="#c01c2c" stroke="#c01c2c" stroke-width="1"/>
<path d="M426.3,425.90000000000003L429.7,429.3L426.3,432.7L422.90000000000003,429.3Z" fill="#c01c2c" stroke="#c01c2c" stroke-width="1"/>
<path d="M437.3,432.8L440.7,436.2L437.3,439.59999999999997L433.90000000000003,436.2Z" fill="#c01c2c" stroke="#c01c2c" stroke-width="1"/>
<path d="M448.3,414.0L451.7,417.4L448.3,420.79999999999995L444.90000000000003,417.4Z" fill="#c01c2c" stroke="#c01c2c" stroke-width="1"/>
<polyline points="283.3,565.8 294.3,545.5 305.3,508.0 316.3,506.8 327.3,482.0 338.3,470.2 349.3,458.4 360.3,461.7 371.3,445.3 382.3,443.9 393.3,437.0 404.3,425.4 415.3,421.6 426.3,428.5 437.3,418.5 448.3,401.6" fill="none" stroke="#6a2fa0" stroke-width="1" />
<path d="M283.3,562.4L286.7,565.8L283.3,569.1999999999999L279.90000000000003,565.8Z" fill="#6a2fa0" stroke="#6a2fa0" stroke-width="1"/>
<path d="M294.3,542.1L297.7,545.5L294.3,548.9L290.90000000000003,545.5Z" fill="#6a2fa0" stroke="#6a2fa0" stroke-width="1"/>
<path d="M305.3,504.6L308.7,508.0L305.3,511.4L301.90000000000003,508.0Z" fill="#6a2fa0" stroke="#6a2fa0" stroke-width="1"/>
<path d="M316.3,503.40000000000003L319.7,506.8L316.3,510.2L312.90000000000003,506.8Z" fill="#6a2fa0" stroke="#6a2fa0" stroke-width="1"/>
<path d="M327.3,478.6L330.7,482.0L327.3,485.4L323.90000000000003,482.0Z" fill="#6a2fa0" stroke="#6a2fa0" stroke-width="1"/>
<path d="M338.3,466.8L341.7,470.2L338.3,473.59999999999997L334.90000000000003,470.2Z" fill="#6a2fa0" stroke="#6a2fa0" stroke-width="1"/>
<path d="M349.3,455.0L352.7,458.4L349.3,461.79999999999995L345.90000000000003,458.4Z" fill="#6a2fa0" stroke="#6a2fa0" stroke-width="1"/>
<path d="M360.3,458.3L363.7,461.7L360.3,465.09999999999997L356.90000000000003,461.7Z" fill="#6a2fa0" stroke="#6a2fa0" stroke-width="1"/>
<path d="M371.3,441.90000000000003L374.7,445.3L371.3,448.7L367.90000000000003,445.3Z" fill="#6a2fa0" stroke="#6a2fa0" stroke-width="1"/>
<path d="M382.3,440.5L385.7,443.9L382.3,447.29999999999995L378.90000000000003,443.9Z" fill="#6a2fa0" stroke="#6a2fa0" stroke-width="1"/>
<path d="M393.3,433.6L396.7,437.0L393.3,440.4L389.90000000000003,437.0Z" fill="#6a2fa0" stroke="#6a2fa0" stroke-width="1"/>
<path d="M404.3,422.0L407.7,425.4L404.3,428.79999999999995L400.90000000000003,425.4Z" fill="#6a2fa0" stroke="#6a2fa0" stroke-width="1"/>
<path d="M415.3,418.20000000000005L418.7,421.6L415.3,425.0L411.90000000000003,421.6Z" fill="#6a2fa0" stroke="#6a2fa0" stroke-width="1"/>
<path d="M426.3,425.1L429.7,428.5L426.3,431.9L422.90000000000003,428.5Z" fill="#6a2fa0" stroke="#6a2fa0" stroke-width="1"/>
<path d="M437.3,415.1L440.7,418.5L437.3,421.9L433.90000000000003,418.5Z" fill="#6a2fa0" stroke="#6a2fa0" stroke-width="1"/>
<path d="M448.3,398.20000000000005L451.7,401.6L448.3,405.0L444.90000000000003,401.6Z" fill="#6a2fa0" stroke="#6a2fa0" stroke-width="1"/>
<path d="M259,371.9H267.2V575.9" fill="none" stroke="#231f20" stroke-width="1.2"/>
<line x1="259" y1="575.9" x2="267.2" y2="575.9" stroke="#444" stroke-width="1.2" />
<text x="257.7" y="580.1999999999999" font-size="11.8" text-anchor="end" fill="#231f20" stroke="#231f20" stroke-width="0.22" >0</text>
<line x1="259" y1="535.0" x2="267.2" y2="535.0" stroke="#444" stroke-width="1.2" />
<text x="257.7" y="539.3" font-size="11.8" text-anchor="end" fill="#231f20" stroke="#231f20" stroke-width="0.22" >20</text>
<line x1="259" y1="494.09999999999997" x2="267.2" y2="494.09999999999997" stroke="#444" stroke-width="1.2" />
<text x="257.7" y="498.4" font-size="11.8" text-anchor="end" fill="#231f20" stroke="#231f20" stroke-width="0.22" >40</text>
<line x1="259" y1="453.2" x2="267.2" y2="453.2" stroke="#444" stroke-width="1.2" />
<text x="257.7" y="457.5" font-size="11.8" text-anchor="end" fill="#231f20" stroke="#231f20" stroke-width="0.22" >60</text>
<line x1="259" y1="412.29999999999995" x2="267.2" y2="412.29999999999995" stroke="#444" stroke-width="1.2" />
<text x="257.7" y="416.59999999999997" font-size="11.8" text-anchor="end" fill="#231f20" stroke="#231f20" stroke-width="0.22" >80</text>
<line x1="259" y1="371.4" x2="267.2" y2="371.4" stroke="#444" stroke-width="1.2" />
<text x="255.7" y="375.7" font-size="11.8" text-anchor="end" fill="#231f20" stroke="#231f20" stroke-width="0.22" >100</text>
<line x1="259" y1="575.9" x2="267.2" y2="575.9" stroke="#444" stroke-width="1.2" />
<path d="M283.3,584V576.2H448.3V584" fill="none" stroke="#231f20" stroke-width="1.2"/>
<text x="283.5" y="600.2" font-size="11.5" text-anchor="middle" fill="#231f20" stroke="#231f20" stroke-width="0.22" >1</text>
<text x="445" y="598" font-size="11.5" text-anchor="middle" fill="#231f20" stroke="#231f20" stroke-width="0.22" >16</text>
<text x="367" y="598.9" font-size="13.8" text-anchor="middle" fill="#231f20" stroke="#231f20" stroke-width="0.22" >Sessions</text>
<text transform="translate(232.8,465.1) rotate(-90)" font-size="13.6" text-anchor="middle" fill="#231f20" stroke="#231f20" stroke-width="0.22">Choice for 80% lever (%)</text>
<line x1="273.2" y1="340" x2="287.5" y2="340" stroke="#777" stroke-width="1.3" />
<circle cx="280.2" cy="340" r="3" fill="#5e5e5e"/>
<line x1="273.2" y1="355.4" x2="287.5" y2="355.4" stroke="#8a5fc0" stroke-width="1.3" />
<path d="M280.2,352.0L283.59999999999997,355.4L280.2,358.79999999999995L276.8,355.4Z" fill="#6a2fa0" stroke="#6a2fa0" stroke-width="1"/>
<line x1="273.2" y1="370.2" x2="287.5" y2="370.2" stroke="#d9606a" stroke-width="1.3" />
<path d="M280.2,366.8L283.59999999999997,370.2L280.2,373.59999999999997L276.8,370.2Z" fill="#c01c2c" stroke="#c01c2c" stroke-width="1"/>
<text x="291.2" y="343.7" font-size="12.3" text-anchor="start" fill="#231f20" stroke="#231f20" stroke-width="0.22" >Control</text>
<text x="291.2" y="358.7" font-size="12.3" text-anchor="start" fill="#231f20" stroke="#231f20" stroke-width="0.22" >Susceptible + MS7710</text>
<text x="291.2" y="373.3" font-size="12.3" text-anchor="start" fill="#231f20" stroke="#231f20" stroke-width="0.22" >Susceptible + Saline</text>
<line x1="431.7" y1="337.7" x2="431.7" y2="369.4" stroke="#333" stroke-width="1.2" />
<text x="434.9" y="363.3" font-size="16" text-anchor="start" fill="#231f20" stroke="#231f20" stroke-width="0.22" font-weight="bold" >*</text>
<path d="M524.2,373.6V523.2" stroke="#231f20" stroke-width="1.2"/>
<line x1="518.4" y1="523.2" x2="524.2" y2="523.2" stroke="#444" stroke-width="1.2" />
<text x="514.9" y="527.5" font-size="11.8" text-anchor="end" fill="#231f20" stroke="#231f20" stroke-width="0.22" >0</text>
<line x1="518.4" y1="485.80000000000007" x2="524.2" y2="485.80000000000007" stroke="#444" stroke-width="1.2" />
<text x="514.9" y="490.1000000000001" font-size="11.8" text-anchor="end" fill="#231f20" stroke="#231f20" stroke-width="0.22" >5</text>
<line x1="518.4" y1="448.40000000000003" x2="524.2" y2="448.40000000000003" stroke="#444" stroke-width="1.2" />
<text x="514.9" y="452.70000000000005" font-size="11.8" text-anchor="end" fill="#231f20" stroke="#231f20" stroke-width="0.22" >10</text>
<line x1="518.4" y1="411.00000000000006" x2="524.2" y2="411.00000000000006" stroke="#444" stroke-width="1.2" />
<text x="514.9" y="415.30000000000007" font-size="11.8" text-anchor="end" fill="#231f20" stroke="#231f20" stroke-width="0.22" >15</text>
<line x1="518.4" y1="373.6" x2="524.2" y2="373.6" stroke="#444" stroke-width="1.2" />
<text x="514.9" y="377.90000000000003" font-size="11.8" text-anchor="end" fill="#231f20" stroke="#231f20" stroke-width="0.22" >20</text>
<text transform="translate(496.6,440.6) rotate(-90)" font-size="11.9" text-anchor="middle" fill="#231f20" stroke="#231f20" stroke-width="0.22"># to criteria</text>
<rect x="535.4" y="467.1" width="21.3" height="56.10000000000002" fill="#a7a9ac" stroke="#666" stroke-width="1" />
<rect x="564.4" y="467.47400000000005" width="21.3" height="55.726" fill="#d3c5e5" stroke="#6b2fa0" stroke-width="1" />
<rect x="593.5" y="434.41240000000005" width="21.1" height="88.7876" fill="#f4957b" stroke="#b32d2a" stroke-width="1" />
<line x1="518.4" y1="523.2" x2="625.8" y2="523.2" stroke="#231f20" stroke-width="1.2" />
<circle cx="546.1" cy="403.52000000000004" r="2.2" fill="#5a5a5a"/>
<circle cx="546.1" cy="411.00000000000006" r="2.2" fill="#5a5a5a"/>
<circle cx="540.2" cy="433.44000000000005" r="2.2" fill="#5a5a5a"/>
<circle cx="546.1" cy="433.44000000000005" r="2.2" fill="#5a5a5a"/>
<circle cx="552.0" cy="433.44000000000005" r="2.2" fill="#5a5a5a"/>
<circle cx="540.2" cy="470.84000000000003" r="2.2" fill="#5a5a5a"/>
<circle cx="546.1" cy="470.84000000000003" r="2.2" fill="#5a5a5a"/>
<circle cx="552.0" cy="470.84000000000003" r="2.2" fill="#5a5a5a"/>
<circle cx="537.25" cy="478.32000000000005" r="2.2" fill="#5a5a5a"/>
<circle cx="543.15" cy="478.32000000000005" r="2.2" fill="#5a5a5a"/>
<circle cx="549.0500000000001" cy="478.32000000000005" r="2.2" fill="#5a5a5a"/>
<circle cx="554.95" cy="478.32000000000005" r="2.2" fill="#5a5a5a"/>
<circle cx="543.15" cy="485.80000000000007" r="2.2" fill="#5a5a5a"/>
<circle cx="549.0500000000001" cy="485.80000000000007" r="2.2" fill="#5a5a5a"/>
<circle cx="543.15" cy="493.28000000000003" r="2.2" fill="#5a5a5a"/>
<circle cx="549.0500000000001" cy="493.28000000000003" r="2.2" fill="#5a5a5a"/>
<circle cx="546.1" cy="500.76000000000005" r="2.2" fill="#5a5a5a"/>
<circle cx="546.1" cy="508.24000000000007" r="2.2" fill="#5a5a5a"/>
<path d="M575.0,408.40000000000003L577.47,412.82000000000005L572.53,412.82000000000005Z" fill="#6a2fa0"/>
<path d="M570.3,430.84000000000003L572.77,435.26000000000005L567.8299999999999,435.26000000000005Z" fill="#6a2fa0"/>
<path d="M579.7,430.84000000000003L582.1700000000001,435.26000000000005L577.23,435.26000000000005Z" fill="#6a2fa0"/>
<path d="M570.3,453.28000000000003L572.77,457.70000000000005L567.8299999999999,457.70000000000005Z" fill="#6a2fa0"/>
<path d="M579.7,453.28000000000003L582.1700000000001,457.70000000000005L577.23,457.70000000000005Z" fill="#6a2fa0"/>
<path d="M575.0,460.76L577.47,465.18L572.53,465.18Z" fill="#6a2fa0"/>
<path d="M575.0,468.24L577.47,472.66L572.53,472.66Z" fill="#6a2fa0"/>
<path d="M575.0,475.72L577.47,480.14000000000004L572.53,480.14000000000004Z" fill="#6a2fa0"/>
<path d="M575.0,483.20000000000005L577.47,487.62000000000006L572.53,487.62000000000006Z" fill="#6a2fa0"/>
<path d="M570.3,490.68L572.77,495.1L567.8299999999999,495.1Z" fill="#6a2fa0"/>
<path d="M579.7,490.68L582.1700000000001,495.1L577.23,495.1Z" fill="#6a2fa0"/>
<path d="M570.3,498.16L572.77,502.58000000000004L567.8299999999999,502.58000000000004Z" fill="#6a2fa0"/>
<path d="M579.7,498.16L582.1700000000001,502.58000000000004L577.23,502.58000000000004Z" fill="#6a2fa0"/>
<path d="M595.1,400.92L597.57,405.34000000000003L592.63,405.34000000000003Z" fill="#c8202e"/>
<path d="M603.9,400.92L606.37,405.34000000000003L601.43,405.34000000000003Z" fill="#c8202e"/>
<path d="M612.6999999999999,400.92L615.17,405.34000000000003L610.2299999999999,405.34000000000003Z" fill="#c8202e"/>
<path d="M603.9,408.40000000000003L606.37,412.82000000000005L601.43,412.82000000000005Z" fill="#c8202e"/>
<path d="M603.9,415.88L606.37,420.3L601.43,420.3Z" fill="#c8202e"/>
<path d="M603.9,423.36L606.37,427.78000000000003L601.43,427.78000000000003Z" fill="#c8202e"/>
<path d="M603.9,430.84000000000003L606.37,435.26000000000005L601.43,435.26000000000005Z" fill="#c8202e"/>
<path d="M603.9,438.32000000000005L606.37,442.74000000000007L601.43,442.74000000000007Z" fill="#c8202e"/>
<path d="M599.5,468.24L601.97,472.66L597.03,472.66Z" fill="#c8202e"/>
<path d="M608.3,468.24L610.77,472.66L605.8299999999999,472.66Z" fill="#c8202e"/>
<path d="M603.9,498.16L606.37,502.58000000000004L601.43,502.58000000000004Z" fill="#c8202e"/>
<path d="M546.1,459.4V474.4M540.3000000000001,459.4H551.9M540.3000000000001,474.4H551.9" stroke="#231f20" stroke-width="1.3" fill="none"/>
<path d="M575,459.1V475M569.2,459.1H580.8M569.2,475H580.8" stroke="#231f20" stroke-width="1.3" fill="none"/>
<path d="M603.9,424.5V444.5M598.3,424.5H609.5M598.3,444.5H609.5" stroke="#231f20" stroke-width="1.3" fill="none"/>
<line x1="536.4" y1="331.4" x2="611.6" y2="331.4" stroke="#262626" stroke-width="1.2" />
<text x="572" y="332.5" font-size="16" text-anchor="start" fill="#231f20" stroke="#231f20" stroke-width="0.22" font-weight="bold" >*</text>
<line x1="538" y1="354.2" x2="570.6" y2="354.2" stroke="#262626" stroke-width="1.2" />
<text x="554.6" y="350.2" font-size="12.5" text-anchor="middle" fill="#231f20" stroke="#231f20" stroke-width="0.22" font-style="italic" >ns</text>
<line x1="579.3" y1="354.2" x2="612" y2="354.2" stroke="#262626" stroke-width="1.2" />
<text x="592.9" y="355.6" font-size="16" text-anchor="start" fill="#231f20" stroke="#231f20" stroke-width="0.22" font-weight="bold" >*</text>
<line x1="524.6" y1="541" x2="538" y2="541" stroke="#777" stroke-width="1.2" />
<circle cx="531.3" cy="541" r="2.7" fill="#5e5e5e"/>
<line x1="524.6" y1="555.9" x2="538" y2="555.9" stroke="#8a5fc0" stroke-width="1.2" />
<path d="M531.3,552.8L534.4,555.9L531.3,559.0L528.1999999999999,555.9Z" fill="#6a2fa0" stroke="#6a2fa0" stroke-width="1"/>
<line x1="524.6" y1="570.8" x2="538" y2="570.8" stroke="#d9606a" stroke-width="1.2" />
<path d="M531.3,567.6999999999999L534.4,570.8L531.3,573.9L528.1999999999999,570.8Z" fill="#c01c2c" stroke="#c01c2c" stroke-width="1"/>
<text x="542.1" y="545.1" font-size="11.2" text-anchor="start" fill="#231f20" stroke="#231f20" stroke-width="0.22" >Control</text>
<text x="542.1" y="560" font-size="11.2" text-anchor="start" fill="#231f20" stroke="#231f20" stroke-width="0.22" >Susceptible + MS7710</text>
<text x="542.1" y="574.8" font-size="11.2" text-anchor="start" fill="#231f20" stroke="#231f20" stroke-width="0.22" >Susceptible + Saline</text>
<text x="-0.5" y="628.2" font-size="16.5" text-anchor="start" fill="#231f20" stroke="#231f20" stroke-width="0.22" font-weight="bold" >g</text>
<circle cx="25" cy="642.4" r="5.6" fill="none" stroke="#231f20" stroke-width="1.3"/>
<line x1="25" y1="648.0" x2="25" y2="658.8" stroke="#231f20" stroke-width="1.3"/>
<line x1="19" y1="653.5" x2="31" y2="653.5" stroke="#231f20" stroke-width="1.3"/>
<text x="136.9" y="634.5" font-size="14" text-anchor="start" fill="#231f20" stroke="#231f20" stroke-width="0.22" >Reversal</text>
<polygon points="81.1,811.1 92.0,801.5 103.0,799.9 113.9,795.1 124.9,776.0 135.8,750.8 146.8,750.0 157.8,744.3 168.7,747.8 179.6,722.7 190.6,739.5 201.5,729.0 212.5,728.0 223.4,720.6 234.4,715.4 245.3,712.3 245.3,723.8 234.4,730.0 223.4,736.3 212.5,745.7 201.5,752.0 190.6,762.5 179.6,754.1 168.7,777.1 157.8,774.2 146.8,789.2 135.8,799.0 124.9,815.0 113.9,834.2 103.0,837.4 92.0,839.8 81.1,843.8" fill="url(#bGray)" fill-opacity="0.8"/>
<polygon points="81.1,873.4 92.0,859.8 103.0,842.2 113.9,835.8 124.9,821.5 135.8,799.0 146.8,784.2 157.8,779.3 168.7,780.9 179.6,771.9 190.6,769.8 201.5,768.7 212.5,747.8 223.4,751.0 234.4,750.0 245.3,743.6 245.3,780.2 234.4,787.6 223.4,785.5 212.5,782.3 201.5,805.3 190.6,806.4 179.6,806.4 168.7,820.6 157.8,814.0 146.8,822.2 135.8,842.0 124.9,855.0 113.9,861.4 103.0,866.2 92.0,873.4 81.1,877.4" fill="url(#bSal)" fill-opacity="0.9"/>
<polygon points="81.1,873.0 92.0,837.4 103.0,815.0 113.9,780.0 124.9,751.2 135.8,747.9 146.8,738.8 157.8,731.4 168.7,724.8 179.6,716.0 190.6,727.0 201.5,718.6 212.5,710.2 223.4,708.1 234.4,702.9 245.3,703.9 245.3,718.6 234.4,723.8 223.4,732.1 212.5,743.6 201.5,756.2 190.6,765.6 179.6,762.5 168.7,767.7 157.8,772.7 146.8,782.6 135.8,792.5 124.9,800.7 113.9,829.5 103.0,848.6 92.0,861.4 81.1,876.0" fill="url(#bPur)" fill-opacity="0.66"/>
<line x1="64.5" y1="743.1" x2="245" y2="743.1" stroke="#333" stroke-width="1.1" stroke-dasharray="4.5,3"/>
<polyline points="81.1,827.5 92.0,820.4 103.0,814.8 113.9,815.7 124.9,790.7 135.8,768.2 146.8,775.1 157.8,762.1 168.7,757.9 179.6,734.9 190.6,752.4 201.5,742.6 212.5,737.8 223.4,728.4 234.4,723.2 245.3,718.1" fill="none" stroke="#4a4a4a" stroke-width="1" stroke-dasharray="3,2"/>
<circle cx="81.1" cy="827.5" r="3.2" fill="#4a4a4a"/>
<circle cx="92.05" cy="820.4" r="3.2" fill="#4a4a4a"/>
<circle cx="103.0" cy="814.8" r="3.2" fill="#4a4a4a"/>
<circle cx="113.94999999999999" cy="815.7" r="3.2" fill="#4a4a4a"/>
<circle cx="124.89999999999999" cy="790.7" r="3.2" fill="#4a4a4a"/>
<circle cx="135.85" cy="768.2" r="3.2" fill="#4a4a4a"/>
<circle cx="146.79999999999998" cy="775.1" r="3.2" fill="#4a4a4a"/>
<circle cx="157.75" cy="762.1" r="3.2" fill="#4a4a4a"/>
<circle cx="168.7" cy="757.9" r="3.2" fill="#4a4a4a"/>
<circle cx="179.64999999999998" cy="734.9" r="3.2" fill="#4a4a4a"/>
<circle cx="190.6" cy="752.4" r="3.2" fill="#4a4a4a"/>
<circle cx="201.54999999999998" cy="742.6" r="3.2" fill="#4a4a4a"/>
<circle cx="212.49999999999997" cy="737.8" r="3.2" fill="#4a4a4a"/>
<circle cx="223.45" cy="728.4" r="3.2" fill="#4a4a4a"/>
<circle cx="234.39999999999998" cy="723.2" r="3.2" fill="#4a4a4a"/>
<circle cx="245.35" cy="718.1" r="3.2" fill="#4a4a4a"/>
<polyline points="81.1,874.8 92.0,850.5 103.0,836.3 113.9,800.7 124.9,777.4 135.8,774.6 146.8,757.9 157.8,753.7 168.7,747.4 179.6,740.1 190.6,746.8 201.5,736.3 212.5,726.5 223.4,721.1 234.4,713.3 245.3,711.2" fill="none" stroke="#8b2a8e" stroke-width="1" stroke-dasharray="3,2"/>
<path d="M81.1,871.1999999999999L84.69999999999999,874.8L81.1,878.4L77.5,874.8Z" fill="#8b2a8e" stroke="#8b2a8e" stroke-width="1"/>
<path d="M92.05,846.9L95.64999999999999,850.5L92.05,854.1L88.45,850.5Z" fill="#8b2a8e" stroke="#8b2a8e" stroke-width="1"/>
<path d="M103.0,832.6999999999999L106.6,836.3L103.0,839.9L99.4,836.3Z" fill="#8b2a8e" stroke="#8b2a8e" stroke-width="1"/>
<path d="M113.94999999999999,797.1L117.54999999999998,800.7L113.94999999999999,804.3000000000001L110.35,800.7Z" fill="#8b2a8e" stroke="#8b2a8e" stroke-width="1"/>
<path d="M124.89999999999999,773.8L128.5,777.4L124.89999999999999,781.0L121.3,777.4Z" fill="#8b2a8e" stroke="#8b2a8e" stroke-width="1"/>
<path d="M135.85,771.0L139.45,774.6L135.85,778.2L132.25,774.6Z" fill="#8b2a8e" stroke="#8b2a8e" stroke-width="1"/>
<path d="M146.79999999999998,754.3L150.39999999999998,757.9L146.79999999999998,761.5L143.2,757.9Z" fill="#8b2a8e" stroke="#8b2a8e" stroke-width="1"/>
<path d="M157.75,750.1L161.35,753.7L157.75,757.3000000000001L154.15,753.7Z" fill="#8b2a8e" stroke="#8b2a8e" stroke-width="1"/>
<path d="M168.7,743.8L172.29999999999998,747.4L168.7,751.0L165.1,747.4Z" fill="#8b2a8e" stroke="#8b2a8e" stroke-width="1"/>
<path d="M179.64999999999998,736.5L183.24999999999997,740.1L179.64999999999998,743.7L176.04999999999998,740.1Z" fill="#8b2a8e" stroke="#8b2a8e" stroke-width="1"/>
<path d="M190.6,743.1999999999999L194.2,746.8L190.6,750.4L187.0,746.8Z" fill="#8b2a8e" stroke="#8b2a8e" stroke-width="1"/>
<path d="M201.54999999999998,732.6999999999999L205.14999999999998,736.3L201.54999999999998,739.9L197.95,736.3Z" fill="#8b2a8e" stroke="#8b2a8e" stroke-width="1"/>
<path d="M212.49999999999997,722.9L216.09999999999997,726.5L212.49999999999997,730.1L208.89999999999998,726.5Z" fill="#8b2a8e" stroke="#8b2a8e" stroke-width="1"/>
<path d="M223.45,717.5L227.04999999999998,721.1L223.45,724.7L219.85,721.1Z" fill="#8b2a8e" stroke="#8b2a8e" stroke-width="1"/>
<path d="M234.39999999999998,709.6999999999999L237.99999999999997,713.3L234.39999999999998,716.9L230.79999999999998,713.3Z" fill="#8b2a8e" stroke="#8b2a8e" stroke-width="1"/>
<path d="M245.35,707.6L248.95,711.2L245.35,714.8000000000001L241.75,711.2Z" fill="#8b2a8e" stroke="#8b2a8e" stroke-width="1"/>
<polyline points="81.1,874.8 92.0,869.5 103.0,853.6 113.9,847.5 124.9,837.4 135.8,820.0 146.8,801.3 157.8,796.5 168.7,802.2 179.6,787.6 190.6,788.6 201.5,786.9 212.5,765.0 223.4,769.2 234.4,769.4 245.3,762.5" fill="none" stroke="#9a1620" stroke-width="1" stroke-dasharray="3,2"/>
<path d="M81.1,871.1999999999999L84.69999999999999,874.8L81.1,878.4L77.5,874.8Z" fill="#9a1620" stroke="#9a1620" stroke-width="1"/>
<path d="M92.05,865.9L95.64999999999999,869.5L92.05,873.1L88.45,869.5Z" fill="#9a1620" stroke="#9a1620" stroke-width="1"/>
<path d="M103.0,850.0L106.6,853.6L103.0,857.2L99.4,853.6Z" fill="#9a1620" stroke="#9a1620" stroke-width="1"/>
<path d="M113.94999999999999,843.9L117.54999999999998,847.5L113.94999999999999,851.1L110.35,847.5Z" fill="#9a1620" stroke="#9a1620" stroke-width="1"/>
<path d="M124.89999999999999,833.8L128.5,837.4L124.89999999999999,841.0L121.3,837.4Z" fill="#9a1620" stroke="#9a1620" stroke-width="1"/>
<path d="M135.85,816.4L139.45,820.0L135.85,823.6L132.25,820.0Z" fill="#9a1620" stroke="#9a1620" stroke-width="1"/>
<path d="M146.79999999999998,797.6999999999999L150.39999999999998,801.3L146.79999999999998,804.9L143.2,801.3Z" fill="#9a1620" stroke="#9a1620" stroke-width="1"/>
<path d="M157.75,792.9L161.35,796.5L157.75,800.1L154.15,796.5Z" fill="#9a1620" stroke="#9a1620" stroke-width="1"/>
<path d="M168.7,798.6L172.29999999999998,802.2L168.7,805.8000000000001L165.1,802.2Z" fill="#9a1620" stroke="#9a1620" stroke-width="1"/>
<path d="M179.64999999999998,784.0L183.24999999999997,787.6L179.64999999999998,791.2L176.04999999999998,787.6Z" fill="#9a1620" stroke="#9a1620" stroke-width="1"/>
<path d="M190.6,785.0L194.2,788.6L190.6,792.2L187.0,788.6Z" fill="#9a1620" stroke="#9a1620" stroke-width="1"/>
<path d="M201.54999999999998,783.3L205.14999999999998,786.9L201.54999999999998,790.5L197.95,786.9Z" fill="#9a1620" stroke="#9a1620" stroke-width="1"/>
<path d="M212.49999999999997,761.4L216.09999999999997,765.0L212.49999999999997,768.6L208.89999999999998,765.0Z" fill="#9a1620" stroke="#9a1620" stroke-width="1"/>
<path d="M223.45,765.6L227.04999999999998,769.2L223.45,772.8000000000001L219.85,769.2Z" fill="#9a1620" stroke="#9a1620" stroke-width="1"/>
<path d="M234.39999999999998,765.8L237.99999999999997,769.4L234.39999999999998,773.0L230.79999999999998,769.4Z" fill="#9a1620" stroke="#9a1620" stroke-width="1"/>
<path d="M245.35,758.9L248.95,762.5L245.35,766.1L241.75,762.5Z" fill="#9a1620" stroke="#9a1620" stroke-width="1"/>
<path d="M56.4,681.8H64.5V886.3" fill="none" stroke="#231f20" stroke-width="1.2"/>
<line x1="56.4" y1="886.3" x2="64.5" y2="886.3" stroke="#444" stroke-width="1.2" />
<text x="54.6" y="890.5999999999999" font-size="11.8" text-anchor="end" fill="#231f20" stroke="#231f20" stroke-width="0.22" >0</text>
<line x1="56.4" y1="845.4" x2="64.5" y2="845.4" stroke="#444" stroke-width="1.2" />
<text x="54.6" y="849.6999999999999" font-size="11.8" text-anchor="end" fill="#231f20" stroke="#231f20" stroke-width="0.22" >20</text>
<line x1="56.4" y1="804.5" x2="64.5" y2="804.5" stroke="#444" stroke-width="1.2" />
<text x="54.6" y="808.8" font-size="11.8" text-anchor="end" fill="#231f20" stroke="#231f20" stroke-width="0.22" >40</text>
<line x1="56.4" y1="763.5999999999999" x2="64.5" y2="763.5999999999999" stroke="#444" stroke-width="1.2" />
<text x="54.6" y="767.8999999999999" font-size="11.8" text-anchor="end" fill="#231f20" stroke="#231f20" stroke-width="0.22" >60</text>
<line x1="56.4" y1="722.6999999999999" x2="64.5" y2="722.6999999999999" stroke="#444" stroke-width="1.2" />
<text x="54.6" y="726.9999999999999" font-size="11.8" text-anchor="end" fill="#231f20" stroke="#231f20" stroke-width="0.22" >80</text>
<line x1="56.4" y1="681.8" x2="64.5" y2="681.8" stroke="#444" stroke-width="1.2" />
<text x="54.6" y="686.0999999999999" font-size="11.8" text-anchor="end" fill="#231f20" stroke="#231f20" stroke-width="0.22" >100</text>
<path d="M81.1,894V886.5H245.4V894" fill="none" stroke="#231f20" stroke-width="1.2"/>
<text x="81.6" y="906.6" font-size="11.5" text-anchor="middle" fill="#231f20" stroke="#231f20" stroke-width="0.22" >1</text>
<text x="244.5" y="906.6" font-size="11.5" text-anchor="middle" fill="#231f20" stroke="#231f20" stroke-width="0.22" >16</text>
<text x="157" y="909" font-size="13.8" text-anchor="middle" fill="#231f20" stroke="#231f20" stroke-width="0.22" >Sessions</text>
<text transform="translate(26.2,775.2) rotate(-90)" font-size="13.6" text-anchor="middle" fill="#231f20" stroke="#231f20" stroke-width="0.22">Choice for 80% lever (%)</text>
<line x1="69.2" y1="648.9" x2="83.7" y2="648.9" stroke="#777" stroke-width="1.3" />
<circle cx="76.6" cy="648.9" r="3" fill="#5e5e5e"/>
<line x1="69.2" y1="663.8" x2="83.7" y2="663.8" stroke="#8a5fc0" stroke-width="1.3" />
<path d="M76.6,660.4L80.0,663.8L76.6,667.1999999999999L73.19999999999999,663.8Z" fill="#6a2fa0" stroke="#6a2fa0" stroke-width="1"/>
<line x1="69.2" y1="678.9" x2="83.7" y2="678.9" stroke="#d9606a" stroke-width="1.3" />
<path d="M76.6,675.5L80.0,678.9L76.6,682.3L73.19999999999999,678.9Z" fill="#c01c2c" stroke="#c01c2c" stroke-width="1"/>
<text x="87.1" y="652.6" font-size="12.3" text-anchor="start" fill="#231f20" stroke="#231f20" stroke-width="0.22" >Control</text>
<text x="87.1" y="667.5" font-size="12.3" text-anchor="start" fill="#231f20" stroke="#231f20" stroke-width="0.22" >Susceptible + MS7710</text>
<text x="87.1" y="682.5" font-size="12.3" text-anchor="start" fill="#231f20" stroke="#231f20" stroke-width="0.22" >Susceptible + Saline</text>
<line x1="228.8" y1="645.8" x2="228.8" y2="678.2" stroke="#333" stroke-width="1.2" />
<text x="231.3" y="671.5" font-size="15.5" text-anchor="start" fill="#231f20" stroke="#231f20" stroke-width="0.22" font-weight="bold" >*</text>
<path d="M320.1,674.6V839.4" stroke="#231f20" stroke-width="1.2"/>
<line x1="312.8" y1="839.4" x2="320.1" y2="839.4" stroke="#444" stroke-width="1.2" />
<text x="310.1" y="843.6999999999999" font-size="11.9" text-anchor="end" fill="#231f20" stroke="#231f20" stroke-width="0.22" >0</text>
<line x1="312.8" y1="801.9" x2="320.1" y2="801.9" stroke="#444" stroke-width="1.2" />
<text x="310.1" y="806.1999999999999" font-size="11.9" text-anchor="end" fill="#231f20" stroke="#231f20" stroke-width="0.22" >5</text>
<line x1="312.8" y1="764.4" x2="320.1" y2="764.4" stroke="#444" stroke-width="1.2" />
<text x="310.1" y="768.6999999999999" font-size="11.9" text-anchor="end" fill="#231f20" stroke="#231f20" stroke-width="0.22" >10</text>
<line x1="312.8" y1="726.9" x2="320.1" y2="726.9" stroke="#444" stroke-width="1.2" />
<text x="310.1" y="731.1999999999999" font-size="11.9" text-anchor="end" fill="#231f20" stroke="#231f20" stroke-width="0.22" >15</text>
<line x1="312.8" y1="689.4" x2="320.1" y2="689.4" stroke="#444" stroke-width="1.2" />
<text x="310.1" y="693.6999999999999" font-size="11.9" text-anchor="end" fill="#231f20" stroke="#231f20" stroke-width="0.22" >20</text>
<text transform="translate(291.4,756.5) rotate(-90)" font-size="12" text-anchor="middle" fill="#231f20" stroke="#231f20" stroke-width="0.22"># to criteria</text>
<rect x="330.9" y="778" width="21.5" height="61.39999999999998" fill="url(#gGray)" stroke="#333" stroke-width="1" />
<rect x="359.8" y="778" width="20.6" height="61.39999999999998" fill="url(#gPur)" stroke="#333" stroke-width="1" />
<rect x="388.9" y="734.9" width="20.4" height="104.5" fill="url(#gSal)" stroke="#333" stroke-width="1" />
<line x1="312.8" y1="839.4" x2="420.3" y2="839.4" stroke="#231f20" stroke-width="1.2" />
<circle cx="341.5" cy="741.9" r="2.3" fill="#555"/>
<circle cx="341.5" cy="764.4" r="2.3" fill="#555"/>
<circle cx="336.8" cy="779.4" r="2.3" fill="#555"/>
<circle cx="346.2" cy="779.4" r="2.3" fill="#555"/>
<circle cx="341.5" cy="794.4" r="2.3" fill="#555"/>
<circle cx="341.5" cy="809.4" r="2.3" fill="#555"/>
<path d="M370.4,701.8L372.87,706.22L367.92999999999995,706.22Z" fill="#4b2a9b"/>
<path d="M370.4,731.8L372.87,736.22L367.92999999999995,736.22Z" fill="#4b2a9b"/>
<path d="M370.4,761.8L372.87,766.22L367.92999999999995,766.22Z" fill="#4b2a9b"/>
<path d="M365.7,784.3L368.17,788.72L363.22999999999996,788.72Z" fill="#4b2a9b"/>
<path d="M375.09999999999997,784.3L377.57,788.72L372.62999999999994,788.72Z" fill="#4b2a9b"/>
<path d="M365.7,799.3L368.17,803.72L363.22999999999996,803.72Z" fill="#4b2a9b"/>
<path d="M375.09999999999997,799.3L377.57,803.72L372.62999999999994,803.72Z" fill="#4b2a9b"/>
<path d="M365.7,806.8L368.17,811.22L363.22999999999996,811.22Z" fill="#4b2a9b"/>
<path d="M375.09999999999997,806.8L377.57,811.22L372.62999999999994,811.22Z" fill="#4b2a9b"/>
<path d="M398.9,671.8L401.37,676.22L396.42999999999995,676.22Z" fill="#9b1a1a"/>
<path d="M398.9,686.8L401.37,691.22L396.42999999999995,691.22Z" fill="#9b1a1a"/>
<path d="M398.9,701.8L401.37,706.22L396.42999999999995,706.22Z" fill="#9b1a1a"/>
<path d="M394.2,724.3L396.67,728.72L391.72999999999996,728.72Z" fill="#9b1a1a"/>
<path d="M403.59999999999997,724.3L406.07,728.72L401.12999999999994,728.72Z" fill="#9b1a1a"/>
<path d="M398.9,731.8L401.37,736.22L396.42999999999995,736.22Z" fill="#9b1a1a"/>
<path d="M398.9,739.3L401.37,743.72L396.42999999999995,743.72Z" fill="#9b1a1a"/>
<path d="M398.9,769.3L401.37,773.72L396.42999999999995,773.72Z" fill="#9b1a1a"/>
<path d="M398.9,776.8L401.37,781.22L396.42999999999995,781.22Z" fill="#9b1a1a"/>
<path d="M398.9,791.8L401.37,796.22L396.42999999999995,796.22Z" fill="#9b1a1a"/>
<path d="M341.5,768.4V788.2M335.6,768.4H347.4M335.6,788.2H347.4" stroke="#231f20" stroke-width="1.3" fill="none"/>
<path d="M370.4,765.4V790.2M364.29999999999995,765.4H376.5M364.29999999999995,790.2H376.5" stroke="#231f20" stroke-width="1.3" fill="none"/>
<path d="M398.9,722.1V747.1M392.79999999999995,722.1H405.0M392.79999999999995,747.1H405.0" stroke="#231f20" stroke-width="1.3" fill="none"/>
<line x1="330.5" y1="645.5" x2="405" y2="645.5" stroke="#262626" stroke-width="1.3" />
<text x="367.1" y="641.3" font-size="11.5" text-anchor="middle" fill="#231f20" stroke="#231f20" stroke-width="0.22" font-style="italic" >p=0.06</text>
<line x1="331.4" y1="661.2" x2="364.2" y2="661.2" stroke="#1e1e1e" stroke-width="1.3" />
<text x="350.2" y="657.7" font-size="11.5" text-anchor="middle" fill="#231f20" stroke="#231f20" stroke-width="0.22" font-style="italic" >ns</text>
<line x1="373.2" y1="661.2" x2="405.8" y2="661.2" stroke="#1e1e1e" stroke-width="1.3" />
<text x="386.2" y="661.7" font-size="15.5" text-anchor="start" fill="#231f20" stroke="#231f20" stroke-width="0.22" font-weight="bold" >*</text>
<line x1="305.1" y1="857.4" x2="319" y2="857.4" stroke="#777" stroke-width="1.2" />
<circle cx="312.4" cy="857.4" r="2.7" fill="#5e5e5e"/>
<line x1="305.1" y1="873.2" x2="319" y2="873.2" stroke="#8a5fc0" stroke-width="1.2" />
<path d="M312.4,870.1L315.5,873.2L312.4,876.3000000000001L309.29999999999995,873.2Z" fill="#6a2fa0" stroke="#6a2fa0" stroke-width="1"/>
<line x1="305.1" y1="888" x2="319" y2="888" stroke="#d9606a" stroke-width="1.2" />
<path d="M312.4,884.9L315.5,888L312.4,891.1L309.29999999999995,888Z" fill="#c01c2c" stroke="#c01c2c" stroke-width="1"/>
<text x="322.2" y="861.6" font-size="11.2" text-anchor="start" fill="#231f20" stroke="#231f20" stroke-width="0.22" >Control</text>
<text x="322.2" y="877.1" font-size="11.2" text-anchor="start" fill="#231f20" stroke="#231f20" stroke-width="0.22" >Susceptible + MS7710</text>
<text x="322.2" y="891.9" font-size="11.2" text-anchor="start" fill="#231f20" stroke="#231f20" stroke-width="0.22" >Susceptible + Saline</text>
<text x="460.1" y="628.2" font-size="16.5" text-anchor="start" fill="#231f20" stroke="#231f20" stroke-width="0.22" font-weight="bold" >h</text>
<circle cx="490.05" cy="650.8" r="5.3" fill="none" stroke="#231f20" stroke-width="1.3"/>
<path d="M492.15,645.93L496.6,635.6M489.6,639.4L496.6,635.6L498.6,643.5" fill="none" stroke="#231f20" stroke-width="1.3" stroke-linejoin="round" stroke-linecap="round"/>
<path d="M521.5,652.4V738.8" stroke="#231f20" stroke-width="1.1"/>
<line x1="517" y1="738.8" x2="521.5" y2="738.8" stroke="#444" stroke-width="1.1" />
<text x="515.4" y="742.1999999999999" font-size="9.4" text-anchor="end" fill="#333" stroke="#333" stroke-width="0.08" >0.0</text>
<line x1="517" y1="713.25" x2="521.5" y2="713.25" stroke="#444" stroke-width="1.1" />
<text x="515.4" y="716.65" font-size="9.4" text-anchor="end" fill="#333" stroke="#333" stroke-width="0.08" >0.5</text>
<line x1="517" y1="687.6999999999999" x2="521.5" y2="687.6999999999999" stroke="#444" stroke-width="1.1" />
<text x="515.4" y="691.0999999999999" font-size="9.4" text-anchor="end" fill="#333" stroke="#333" stroke-width="0.08" >1.0</text>
<line x1="517" y1="662.15" x2="521.5" y2="662.15" stroke="#444" stroke-width="1.1" />
<text x="515.4" y="665.55" font-size="9.4" text-anchor="end" fill="#333" stroke="#333" stroke-width="0.08" >1.5</text>
<line x1="517" y1="738.8" x2="636.3" y2="738.8" stroke="#231f20" stroke-width="1.1" />
<line x1="521.5" y1="738.8" x2="521.5" y2="742.8" stroke="#444" stroke-width="1.1" />
<text x="521.5" y="752.5" font-size="9.4" text-anchor="middle" fill="#333" stroke="#333" stroke-width="0.08" >0</text>
<line x1="550.2" y1="738.8" x2="550.2" y2="742.8" stroke="#444" stroke-width="1.1" />
<text x="550.2" y="752.5" font-size="9.4" text-anchor="middle" fill="#333" stroke="#333" stroke-width="0.08" >5</text>
<line x1="578.9" y1="738.8" x2="578.9" y2="742.8" stroke="#444" stroke-width="1.1" />
<text x="578.9" y="752.5" font-size="9.4" text-anchor="middle" fill="#333" stroke="#333" stroke-width="0.08" >10</text>
<line x1="607.6" y1="738.8" x2="607.6" y2="742.8" stroke="#444" stroke-width="1.1" />
<text x="607.6" y="752.5" font-size="9.4" text-anchor="middle" fill="#333" stroke="#333" stroke-width="0.08" >15</text>
<line x1="636.3" y1="738.8" x2="636.3" y2="742.8" stroke="#444" stroke-width="1.1" />
<text x="636.3" y="752.5" font-size="9.4" text-anchor="middle" fill="#333" stroke="#333" stroke-width="0.08" >20</text>
<text x="581" y="767.1" font-size="11.5" text-anchor="middle" fill="#231f20" stroke="#231f20" stroke-width="0.22" ># to criteria</text>
<text transform="translate(494.8,692.7) rotate(-90)" font-size="11.4" text-anchor="middle" fill="#231f20" stroke="#231f20" stroke-width="0.22">SI ratio</text>
<circle cx="573.16" cy="654.996" r="2.6" fill="#aa97d4"/>
<circle cx="555.94" cy="665.2159999999999" r="2.6" fill="#aa97d4"/>
<circle cx="544.46" cy="679.524" r="2.6" fill="#aa97d4"/>
<circle cx="538.72" cy="686.1669999999999" r="2.6" fill="#aa97d4"/>
<circle cx="538.72" cy="688.211" r="2.6" fill="#aa97d4"/>
<circle cx="567.42" cy="685.656" r="2.6" fill="#aa97d4"/>
<circle cx="561.68" cy="700.4749999999999" r="2.6" fill="#aa97d4"/>
<circle cx="550.2" cy="704.563" r="2.6" fill="#aa97d4"/>
<circle cx="573.16" cy="703.5409999999999" r="2.6" fill="#aa97d4"/>
<circle cx="544.46" cy="724.492" r="2.6" fill="#aa97d4"/>
<circle cx="590.38" cy="676.458" r="2.6" fill="#aa97d4"/>
<circle cx="590.38" cy="688.722" r="2.6" fill="#aa97d4"/>
<circle cx="607.6" cy="677.4799999999999" r="2.6" fill="#aa97d4"/>
<text x="460" y="769.9" font-size="16.5" text-anchor="start" fill="#231f20" stroke="#231f20" stroke-width="0.22" font-weight="bold" >i</text>
<circle cx="489.3" cy="775.6" r="5.6" fill="none" stroke="#231f20" stroke-width="1.3"/>
<line x1="489.3" y1="781.2" x2="489.3" y2="792.2" stroke="#231f20" stroke-width="1.3"/>
<line x1="483.2" y1="786.5" x2="495" y2="786.5" stroke="#231f20" stroke-width="1.3"/>
<path d="M521.5,783.6V869.5" stroke="#231f20" stroke-width="1.1"/>
<line x1="517" y1="869.5" x2="521.5" y2="869.5" stroke="#444" stroke-width="1.1" />
<text x="515.4" y="872.9" font-size="9.4" text-anchor="end" fill="#333" stroke="#333" stroke-width="0.08" >0.0</text>
<line x1="517" y1="843.95" x2="521.5" y2="843.95" stroke="#444" stroke-width="1.1" />
<text x="515.4" y="847.35" font-size="9.4" text-anchor="end" fill="#333" stroke="#333" stroke-width="0.08" >0.5</text>
<line x1="517" y1="818.4" x2="521.5" y2="818.4" stroke="#444" stroke-width="1.1" />
<text x="515.4" y="821.8" font-size="9.4" text-anchor="end" fill="#333" stroke="#333" stroke-width="0.08" >1.0</text>
<line x1="517" y1="792.85" x2="521.5" y2="792.85" stroke="#444" stroke-width="1.1" />
<text x="515.4" y="796.25" font-size="9.4" text-anchor="end" fill="#333" stroke="#333" stroke-width="0.08" >1.5</text>
<line x1="517" y1="869.5" x2="636.3" y2="869.5" stroke="#231f20" stroke-width="1.1" />
<line x1="521.5" y1="869.5" x2="521.5" y2="873.5" stroke="#444" stroke-width="1.1" />
<text x="521.5" y="883.2" font-size="9.4" text-anchor="middle" fill="#333" stroke="#333" stroke-width="0.08" >0</text>
<line x1="550.2" y1="869.5" x2="550.2" y2="873.5" stroke="#444" stroke-width="1.1" />
<text x="550.2" y="883.2" font-size="9.4" text-anchor="middle" fill="#333" stroke="#333" stroke-width="0.08" >5</text>
<line x1="578.9" y1="869.5" x2="578.9" y2="873.5" stroke="#444" stroke-width="1.1" />
<text x="578.9" y="883.2" font-size="9.4" text-anchor="middle" fill="#333" stroke="#333" stroke-width="0.08" >10</text>
<line x1="607.6" y1="869.5" x2="607.6" y2="873.5" stroke="#444" stroke-width="1.1" />
<text x="607.6" y="883.2" font-size="9.4" text-anchor="middle" fill="#333" stroke="#333" stroke-width="0.08" >15</text>
<line x1="636.3" y1="869.5" x2="636.3" y2="873.5" stroke="#444" stroke-width="1.1" />
<text x="636.3" y="883.2" font-size="9.4" text-anchor="middle" fill="#333" stroke="#333" stroke-width="0.08" >20</text>
<text x="581" y="903.7" font-size="11.5" text-anchor="middle" fill="#231f20" stroke="#231f20" stroke-width="0.22" ># to criteria</text>
<text transform="translate(494.8,824.8) rotate(-90)" font-size="11.4" text-anchor="middle" fill="#231f20" stroke="#231f20" stroke-width="0.22">SI ratio</text>
<path d="M561.68,795.882L564.78,798.982L561.68,802.082L558.5799999999999,798.982Z" fill="#aa97d4" stroke="#aa97d4" stroke-width="1"/>
<path d="M561.68,809.679L564.78,812.779L561.68,815.879L558.5799999999999,812.779Z" fill="#aa97d4" stroke="#aa97d4" stroke-width="1"/>
<path d="M578.9,813.7669999999999L582.0,816.867L578.9,819.967L575.8,816.867Z" fill="#aa97d4" stroke="#aa97d4" stroke-width="1"/>
<path d="M544.46,818.366L547.5600000000001,821.466L544.46,824.566L541.36,821.466Z" fill="#aa97d4" stroke="#aa97d4" stroke-width="1"/>
<path d="M550.2,817.855L553.3000000000001,820.955L550.2,824.0550000000001L547.1,820.955Z" fill="#aa97d4" stroke="#aa97d4" stroke-width="1"/>
<path d="M550.2,820.41L553.3000000000001,823.51L550.2,826.61L547.1,823.51Z" fill="#aa97d4" stroke="#aa97d4" stroke-width="1"/>
<path d="M544.46,829.097L547.5600000000001,832.197L544.46,835.297L541.36,832.197Z" fill="#aa97d4" stroke="#aa97d4" stroke-width="1"/>
<path d="M601.86,822.454L604.96,825.554L601.86,828.654L598.76,825.554Z" fill="#aa97d4" stroke="#aa97d4" stroke-width="1"/>
<path d="M624.82,827.053L627.9200000000001,830.153L624.82,833.253L621.72,830.153Z" fill="#aa97d4" stroke="#aa97d4" stroke-width="1"/>
</svg></body></html>
